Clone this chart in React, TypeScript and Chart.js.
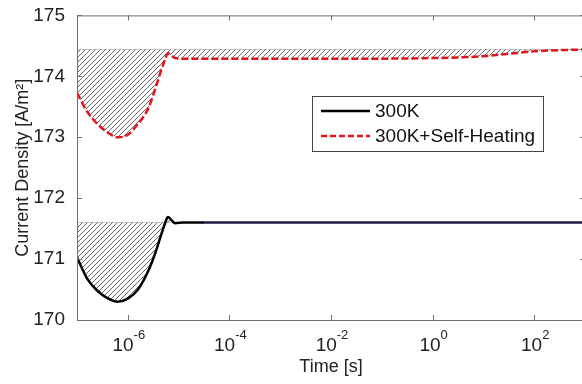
import React, { useEffect, useRef } from "react";
import { Chart, registerables } from "chart.js";

Chart.register(...registerables);

// time points as decade exponents (t = 10^e seconds)
const timeExponents = [-7, -6.8, -6.6, -6.4, -6.2, -6.0, -5.8, -5.6, -5.45, -5.35, -5.27, -5.21, -5.14, -5.07, -4.9, -4.5, -4, -3, -2, -1, 0, 0.5, 1, 1.5, 2, 2.5, 3];
const selfHeatingValues = [173.73, 173.42, 173.22, 173.08, 173.0, 173.04, 173.22, 173.47, 173.82, 174.08, 174.27, 174.38, 174.34, 174.3, 174.29, 174.29, 174.29, 174.29, 174.29, 174.29, 174.3, 174.31, 174.33, 174.37, 174.41, 174.43, 174.44];
const isothermalValues = [171.03, 170.68, 170.48, 170.36, 170.3, 170.35, 170.5, 170.8, 171.12, 171.38, 171.58, 171.69, 171.64, 171.59, 171.6, 171.6, 171.6, 171.6, 171.6, 171.6, 171.6, 171.6, 171.6, 171.6, 171.6, 171.6, 171.6];
const selfHeatingSteady = 174.44;
const isothermalSteady = 171.6;
const xTickExponents = [-6, -4, -2, 0, 2];
const yTickValues = [170, 171, 172, 173, 174, 175];
const seriesLabels = ["300K", "300K+Self-Heating"];

const FONT = "'Liberation Sans', Arial, sans-serif";

function makeHatch(): CanvasPattern | string {
  const s = 5;
  const c = document.createElement("canvas");
  c.width = s;
  c.height = s;
  const g = c.getContext("2d");
  if (!g) return "rgba(0,0,0,0.2)";
  g.fillStyle = "#ffffff";
  g.fillRect(0, 0, s, s);
  g.strokeStyle = "#6a6a6a";
  g.lineWidth = 1;
  g.beginPath();
  g.moveTo(0, s);
  g.lineTo(s, 0);
  g.moveTo(-1, 1);
  g.lineTo(1, -1);
  g.moveTo(s - 1, s + 1);
  g.lineTo(s + 1, s - 1);
  g.stroke();
  return g.createPattern(c, "repeat") || "rgba(0,0,0,0.2)";
}

const framePlugin = {
  id: "frame",
  afterDraw(chart: any) {
    const { ctx, chartArea: a, scales } = chart;
    const xs = scales.x;
    const ys = scales.y;
    ctx.save();
    // box
    ctx.strokeStyle = "#6f6f6f";
    ctx.lineWidth = 1;
    ctx.beginPath();
    ctx.moveTo(a.left + 0.5, a.top + 0.5);
    ctx.lineTo(a.right + 0.5, a.top + 0.5);
    ctx.lineTo(a.right + 0.5, a.bottom + 0.5);
    ctx.lineTo(a.left + 0.5, a.bottom + 0.5);
    ctx.closePath();
    ctx.stroke();
    // inward ticks
    const tl = 5;
    ctx.beginPath();
    xTickExponents.forEach((e) => {
      const px = Math.round(xs.getPixelForValue(Math.pow(10, e))) + 0.5;
      ctx.moveTo(px, a.bottom);
      ctx.lineTo(px, a.bottom - tl);
      ctx.moveTo(px, a.top);
      ctx.lineTo(px, a.top + tl);
    });
    yTickValues.forEach((v) => {
      const py = Math.round(ys.getPixelForValue(v)) + 0.5;
      ctx.moveTo(a.left, py);
      ctx.lineTo(a.left + tl, py);
      ctx.moveTo(a.right, py);
      ctx.lineTo(a.right - tl, py);
    });
    ctx.stroke();
    // x tick labels with superscript exponents
    ctx.fillStyle = "#222";
    ctx.textBaseline = "alphabetic";
    ctx.textAlign = "left";
    xTickExponents.forEach((e) => {
      const px = xs.getPixelForValue(Math.pow(10, e));
      ctx.font = `19px ${FONT}`;
      const base = "10";
      const wb = ctx.measureText(base).width;
      ctx.font = `13px ${FONT}`;
      const ex = String(e);
      const we = ctx.measureText(ex).width;
      const start = px - (wb + we) / 2 + 1;
      ctx.font = `19px ${FONT}`;
      ctx.fillText(base, start, a.bottom + 31);
      ctx.font = `13px ${FONT}`;
      ctx.fillText(ex, start + wb, a.bottom + 19);
    });
    // legend
    const lx = 312.5, ly = 96.5, lw = 231, lh = 55;
    ctx.fillStyle = "#ffffff";
    ctx.fillRect(lx, ly, lw, lh);
    ctx.strokeStyle = "#444";
    ctx.lineWidth = 1;
    ctx.strokeRect(lx, ly, lw, lh);
    const rows = [
      { label: seriesLabels[0], color: "#000000", dash: [] as number[], y: 111 },
      { label: seriesLabels[1], color: "#e3121b", dash: [6, 3], y: 136 },
    ];
    rows.forEach((r) => {
      ctx.save();
      ctx.strokeStyle = r.color;
      ctx.lineWidth = 2.5;
      ctx.setLineDash(r.dash);
      ctx.beginPath();
      ctx.moveTo(321, r.y);
      ctx.lineTo(370, r.y);
      ctx.stroke();
      ctx.restore();
      ctx.fillStyle = "#111";
      ctx.font = `19px ${FONT}`;
      ctx.textBaseline = "middle";
      ctx.textAlign = "left";
      ctx.fillText(r.label, 375, r.y + 1);
    });
    ctx.restore();
  },
};

export default function App() {
  const ref = useRef<HTMLCanvasElement | null>(null);
  useEffect(() => {
    if (!ref.current) return;
    const times = timeExponents.map((e) => Math.pow(10, e));
    const pts = (vals: number[]) => times.map((t, i) => ({ x: t, y: vals[i] }));
    const flat = (v: number) => times.map((t) => ({ x: t, y: v }));
    const hatch = makeHatch();
    const chart = new Chart(ref.current, {
      type: "line",
      data: {
        datasets: [
          {
            label: "SH steady",
            data: flat(selfHeatingSteady),
            borderColor: "#9a9a9a",
            borderWidth: 1,
            pointRadius: 0,
            fill: false,
            order: 2,
          },
          {
            label: seriesLabels[1],
            data: pts(selfHeatingValues),
            borderColor: "#e3121b",
            borderWidth: 2.5,
            borderDash: [7, 3],
            pointRadius: 0,
            cubicInterpolationMode: "monotone",
            fill: { target: 0 },
            backgroundColor: hatch as any,
            order: 1,
          },
          {
            label: "300K steady",
            data: flat(isothermalSteady),
            borderColor: "#9a9a9a",
            borderWidth: 1,
            pointRadius: 0,
            fill: false,
            order: 2,
          },
          {
            label: seriesLabels[0],
            data: pts(isothermalValues),
            borderColor: "#000000",
            borderWidth: 2.5,
            pointRadius: 0,
            cubicInterpolationMode: "monotone",
            fill: { target: 2 },
            backgroundColor: hatch as any,
            order: 1,
            segment: {
              borderColor: (c: any) => (c.p0.parsed.x > 2e-5 ? "#1d1d45" : "#000000"),
            },
          } as any,
        ],
      },
      options: {
        animation: false,
        responsive: false,
        maintainAspectRatio: false,
        layout: { padding: { top: 15, right: 7, left: 0, bottom: 0 } },
        plugins: { legend: { display: false }, tooltip: { enabled: false } },
        scales: {
          x: {
            type: "logarithmic",
            min: 1e-7,
            max: 1e3,
            grid: { display: false },
            border: { display: false },
            afterBuildTicks: (s: any) => {
              s.ticks = xTickExponents.map((e) => ({ value: Math.pow(10, e) }));
            },
            afterFit: (s: any) => {
              s.height = 64;
            },
            ticks: { callback: () => "", font: { size: 18, family: FONT } },
            title: {
              display: true,
              text: "Time [s]",
              color: "#222",
              font: { size: 18, family: FONT },
              padding: { top: 0, bottom: 6 },
            },
          },
          y: {
            min: 170,
            max: 175,
            grid: { display: false },
            border: { display: false },
            afterBuildTicks: (s: any) => {
              s.ticks = yTickValues.map((v) => ({ value: v }));
            },
            afterFit: (s: any) => {
              s.width = 77;
            },
            ticks: {
              color: "#222",
              padding: 4,
              font: { size: 19, family: FONT },
              callback: (v: any) => String(v),
            },
            title: {
              display: true,
              text: "Current Density [A/m²]",
              color: "#222",
              font: { size: 18, family: FONT },
              padding: { top: 12, bottom: 0 },
            },
          },
        },
      },
      plugins: [framePlugin],
    });
    return () => chart.destroy();
  }, []);
  return (
    <div style={{ position: "fixed", left: 0, top: 0, width: 582, height: 384, overflow: "hidden", background: "#fff" }}>
      <canvas ref={ref} width={592} height={384} style={{ width: 592, height: 384, display: "block" }} />
    </div>
  );
}
